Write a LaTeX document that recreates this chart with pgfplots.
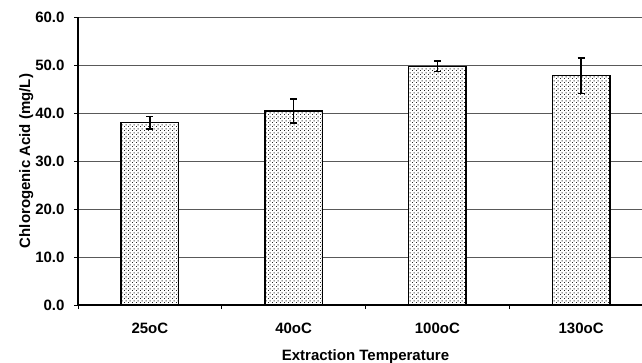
\documentclass[border=0pt]{standalone}
\usepackage{fontspec}
\setmainfont{Liberation Sans}
\usepackage{pgfplots}
\pgfplotsset{compat=1.18}
\usetikzlibrary{patterns}
\pgfdeclarepatternformonly{bardots}{\pgfpointorigin}{\pgfqpoint{4pt}{4pt}}{\pgfqpoint{4pt}{4pt}}{%
  \pgfpathrectangle{\pgfqpoint{0pt}{0pt}}{\pgfqpoint{1.15pt}{1.15pt}}%
  \pgfpathrectangle{\pgfqpoint{2pt}{2pt}}{\pgfqpoint{1.15pt}{1.15pt}}%
  \pgfusepath{fill}}
\begin{document}
\begin{tikzpicture}
\begin{axis}[
  scale only axis,
  width=575pt, height=288pt,
  xmin=-0.5, xmax=3.5,
  ymin=0, ymax=60,
  axis x line*=bottom,
  axis y line*=left,
  axis line style={black, line width=1.3pt},
  xtick={-0.5,0.5,1.5,2.5,3.5},
  x tick label as interval,
  xticklabels={25oC,40oC,100oC,130oC},
  ytick={0,10,20,30,40,50,60},
  tick align=outside,
  major tick length=4pt,
  tick style={black, line width=0.8pt},
  ymajorgrids,
  major grid style={black!65, line width=0.9pt},
  /pgf/number format/assume math mode=true,
  yticklabel={\pgfmathprintnumber[fixed, fixed zerofill, precision=1]{\tick}},
  ticklabel style={font=\fontsize{15}{18}\selectfont\bfseries},
  xticklabel style={anchor=base, yshift=-24pt},
  yticklabel style={xshift=-6pt},
  xlabel={Extraction Temperature},
  ylabel={Chlorogenic Acid (mg/L)},
  label style={font=\fontsize{15}{18}\selectfont\bfseries},
  xlabel style={at={(axis description cs:0.5,0)}, anchor=base, yshift=-55pt},
  ylabel style={yshift=-5pt},
]
\addplot[ybar, bar width=0.4, draw=black, line width=1.3pt, fill=white,
  postaction={pattern=bardots, pattern color=black!85},
  error bars/.cd, y dir=both, y explicit,
  error bar style={black, line width=1.4pt},
  error mark options={black, line width=1.4pt, mark size=3.5pt, rotate=90}]
  table[x=x, y=y, y error=e] {
x y e
0 38.0 1.3
1 40.4 2.5
2 49.7 1.1
3 47.8 3.7
};
\end{axis}
\pgfresetboundingbox
\path[use as bounding box] ([xshift=-78pt,yshift=-57pt]current axis.south west) rectangle ([xshift=-11pt,yshift=17pt]current axis.north east);
\end{tikzpicture}
\end{document}
